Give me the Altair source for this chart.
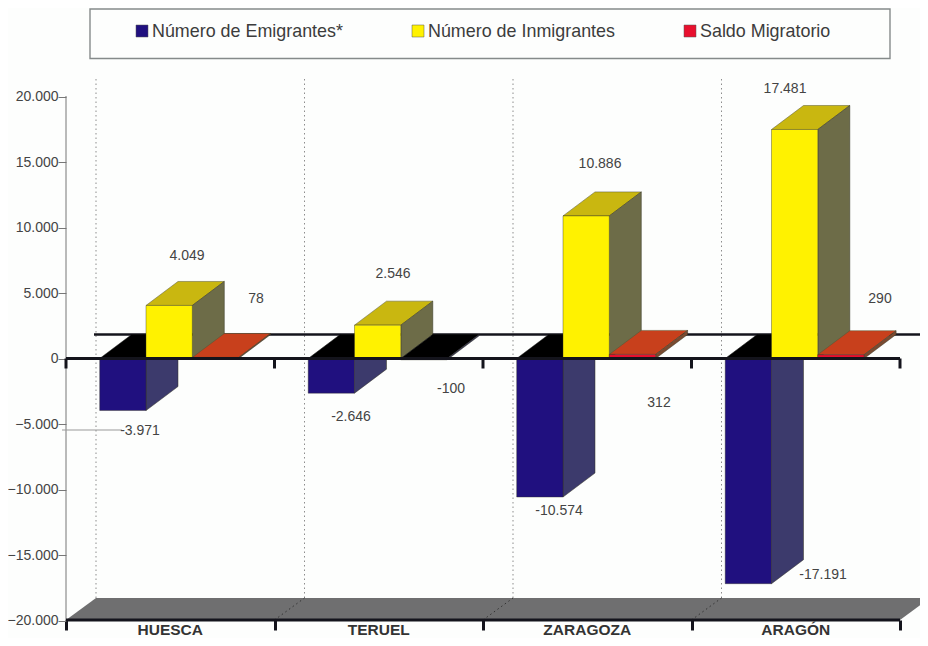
import altair as alt
import pandas as pd

CATEGORIES = ["HUESCA", "TERUEL", "ZARAGOZA", "ARAGÓN"]
EMIGRANTES = [-3971, -2646, -10574, -17191]
INMIGRANTES = [4049, 2546, 10886, 17481]
SALDO = [78, -100, 312, 290]
SERIES_NAMES = ["Número de Emigrantes*", "Número de Inmigrantes", "Saldo Migratorio"]
Y_TICKS = [-20000, -15000, -10000, -5000, 0, 5000, 10000, 15000, 20000]
X_TICKS = [0, 1, 2, 3, 4]

# ---- layout (reference picture pixels) ----
W, H = 912, 630
M = 8
X0, CAT_W = 66.0, 208.5
Y0, PX_PER_UNIT = 358.5, 0.0131
BAR_W = 46.3
GROUP_OFF = 33.7
DX_PX, DY_PX = 32.0, 24.0


def fx(px):
    return (px - X0) / CAT_W


def fy(py):
    return (Y0 - py) / PX_PER_UNIT


xs = alt.Scale(domain=[fx(M), fx(M + W)], range=[0, W], nice=False, zero=False)
ys = alt.Scale(domain=[fy(M + H), fy(M)], range=[H, 0], nice=False, zero=False)
BW = BAR_W / CAT_W
DX = DX_PX / CAT_W
DY = DY_PX / PX_PER_UNIT

X_AXIS = alt.Axis(
    values=X_TICKS,
    offset=620 - (M + H),
    labels=False,
    domain=False,
    grid=False,
    title=None,
    tickSize=10,
    tickWidth=3,
    tickColor="#14141c",
)
Y_AXIS = alt.Axis(
    values=Y_TICKS,
    offset=M - X0,
    domain=False,
    grid=False,
    title=None,
    tickSize=8,
    tickWidth=1,
    tickColor="#777777",
    labelFont="Liberation Sans",
    labelFontSize=14,
    labelColor="#444444",
    labelPadding=0,
    labelExpr="replace(format(datum.value, ','), ',', '.')",
)


def enc(chart, x="x", y="y", x2=None, y2=None, detail=None):
    kw = dict(x=alt.X(f"{x}:Q", scale=xs, axis=X_AXIS), y=alt.Y(f"{y}:Q", scale=ys, axis=Y_AXIS))
    if x2:
        kw["x2"] = f"{x2}:Q"
    if y2:
        kw["y2"] = f"{y2}:Q"
    if detail:
        kw["detail"] = f"{detail}:N"
    return chart.encode(**kw)


def front_df(values, idx):
    return pd.DataFrame(
        [
            {
                "x": i + fx(X0 + GROUP_OFF) + idx * BW,
                "x2": i + fx(X0 + GROUP_OFF) + (idx + 1) * BW,
                "y": v,
                "y2": 0,
            }
            for i, v in enumerate(values)
        ]
    )


def side_df(values, idx):
    rows = []
    for i, v in enumerate(values):
        xr = i + fx(X0 + GROUP_OFF) + (idx + 1) * BW
        rows += [
            {"id": i, "x": xr, "y": v, "y2": 0},
            {"id": i, "x": xr + DX, "y": v + DY, "y2": DY},
        ]
    return pd.DataFrame(rows)


def top_df(values, idx):
    rows = []
    for i, v in enumerate(values):
        xl = i + fx(X0 + GROUP_OFF) + idx * BW
        t = max(v, 0)
        rows += [
            {"id": i, "y": t, "x": xl, "x2": xl + BW, "neg": v < 0},
            {"id": i, "y": t + DY, "x": xl + DX, "x2": xl + BW + DX, "neg": v < 0},
        ]
    return pd.DataFrame(rows)


def bar_layers(values, idx, front, side, top, neg_top="#000000", neg_side=None):
    out = []
    tops = top_df(values, idx)
    sides = side_df(values, idx)
    sides["neg"] = [v < 0 for v in values for _ in (0, 1)]
    for neg, sub in tops.groupby("neg"):
        out.append(
            enc(
                alt.Chart(sub).mark_area(
                    orient="horizontal",
                    color=neg_top if neg else top,
                    stroke="#111111" if neg else "#555533",
                    strokeWidth=0.5,
                ),
                x2="x2",
                detail="id",
            )
        )
    for neg, sub in sides.groupby("neg"):
        out.append(
            enc(
                alt.Chart(sub).mark_area(
                    color=(neg_side or side) if neg else side,
                    stroke="#333322",
                    strokeWidth=0.5,
                ),
                y2="y2",
                detail="id",
            )
        )
    out.append(
        enc(
            alt.Chart(front_df(values, idx)).mark_rect(color=front, stroke="#333322", strokeWidth=0.4),
            x2="x2",
            y2="y2",
        )
    )
    return out


layers = []

# legend frame
frame = pd.DataFrame([{"x": fx(90), "x2": fx(890), "y": fy(9), "y2": fy(58.5)}])
layers.append(
    enc(alt.Chart(frame).mark_rect(fill="#fdfefd", stroke="#858a8a", strokeWidth=1.4), x2="x2", y2="y2")
)

# floor
FLOOR_DX, FLOOR_DY = 30.0 / CAT_W, 22.0 / PX_PER_UNIT
y_floor = fy(620)
floor = pd.DataFrame(
    [
        {"y": y_floor, "x": 0.0, "x2": 4.0},
        {"y": y_floor + FLOOR_DY, "x": FLOOR_DX, "x2": 4.0 + FLOOR_DX},
    ]
)
layers.append(enc(alt.Chart(floor).mark_area(orient="horizontal", color="#6f6f70"), x2="x2"))

# dotted back-wall guides and their continuation over the floor
guides = pd.DataFrame(
    [{"x": c + FLOOR_DX, "y": y_floor + FLOOR_DY, "y2": fy(77)} for c in range(4)]
)
layers.append(
    enc(
        alt.Chart(guides).mark_rule(color="#8d8d8d", strokeDash=[1.5, 3], strokeWidth=1),
        y2="y2",
    )
)
diag = pd.DataFrame(
    [
        r
        for c in range(1, 4)
        for r in (
            {"id": c, "x": float(c), "y": y_floor},
            {"id": c, "x": c + FLOOR_DX, "y": y_floor + FLOOR_DY},
        )
    ]
)
layers.append(
    enc(alt.Chart(diag).mark_line(color="#333333", strokeDash=[1.5, 3], strokeWidth=1), detail="id")
)

# back zero line
back = pd.DataFrame([{"x": fx(94), "x2": fx(928), "y": DY}])
layers.append(enc(alt.Chart(back).mark_rule(color="#14141c", strokeWidth=2.6), x2="x2"))

# left axis line
left = pd.DataFrame([{"x": 0.0, "y": fy(96), "y2": y_floor}])
layers.append(enc(alt.Chart(left).mark_rule(color="#777777", strokeWidth=1), y2="y2"))

# leader of the -3.971 label
leader = pd.DataFrame([{"x": fx(62), "x2": fx(122), "y": fy(430)}])
layers.append(enc(alt.Chart(leader).mark_rule(color="#999999", strokeWidth=1), x2="x2"))

# bars
layers += bar_layers(EMIGRANTES, 0, "#20107f", "#3c3a6c", "#000000")
layers += bar_layers(INMIGRANTES, 1, "#fff200", "#6d6c48", "#c9b710")
layers += bar_layers(SALDO, 2, "#e8102e", "#7a4a30", "#c8401c", neg_side="#2b2a55")

# front axis lines
lines = pd.DataFrame([{"x": 0.0, "x2": 4.0, "y": 0.0}, {"x": 0.0, "x2": 4.0, "y": y_floor}])
layers.append(enc(alt.Chart(lines).mark_rule(color="#14141c", strokeWidth=3), x2="x2"))
zero_ticks = pd.DataFrame([{"x": float(c), "y": 0.0, "y2": -10 / PX_PER_UNIT} for c in range(5)])
layers.append(enc(alt.Chart(zero_ticks).mark_rule(color="#14141c", strokeWidth=3), y2="y2"))

# data labels
LABEL_PX = {
    "e": [(140, 431), (351, 417), (559, 511), (823, 575)],
    "i": [(187, 256), (393, 274), (600, 164), (785, 89)],
    "s": [(256, 299), (451, 389), (659, 403), (880, 299)],
}


def fmt(v):
    return f"{v:,}".replace(",", ".")


lab_rows = []
for key, vals in (("e", EMIGRANTES), ("i", INMIGRANTES), ("s", SALDO)):
    for (px, py), v in zip(LABEL_PX[key], vals):
        lab_rows.append({"x": fx(px), "y": fy(py), "t": fmt(v)})
labels = pd.DataFrame(lab_rows)
layers.append(
    enc(
        alt.Chart(labels).mark_text(font="Liberation Sans", fontSize=14, color="#444444", align="center", baseline="middle")
    ).encode(text="t:N")
)

# category labels
cats = pd.DataFrame(
    [{"x": i + 0.5, "y": fy(630), "t": c} for i, c in enumerate(CATEGORIES)]
)
layers.append(
    enc(
        alt.Chart(cats).mark_text(
            font="Liberation Sans", fontWeight="bold", fontSize=15.5, color="#333333", align="center", baseline="middle"
        )
    ).encode(text="t:N")
)

# legend content
LEG_SW = [136, 412, 684]
LEG_TX = [152, 428, 700]
LEG_COL = ["#20107f", "#fff200", "#e8102e"]
for sw, tx, col, name in zip(LEG_SW, LEG_TX, LEG_COL, SERIES_NAMES):
    sq = pd.DataFrame([{"x": fx(sw), "x2": fx(sw + 12), "y": fy(25), "y2": fy(37)}])
    layers.append(enc(alt.Chart(sq).mark_rect(color=col, stroke="#555555", strokeWidth=0.5), x2="x2", y2="y2"))
    tt = pd.DataFrame([{"x": fx(tx), "y": fy(32), "t": name}])
    layers.append(
        enc(
            alt.Chart(tt).mark_text(font="Liberation Sans", fontSize=17.9, color="#3c3c3c", align="left", baseline="middle")
        ).encode(text="t:N")
    )

chart = (
    alt.layer(*layers)
    .resolve_scale(x="shared", y="shared")
    .properties(
        width=W,
        height=H,
        padding=0,
        autosize=alt.AutoSizeParams(type="none"),
        background="#fdfefd",
    )
    .configure_view(stroke=None)
)

chart.save("out.html", embed_options={"renderer": "svg", "actions": False})
